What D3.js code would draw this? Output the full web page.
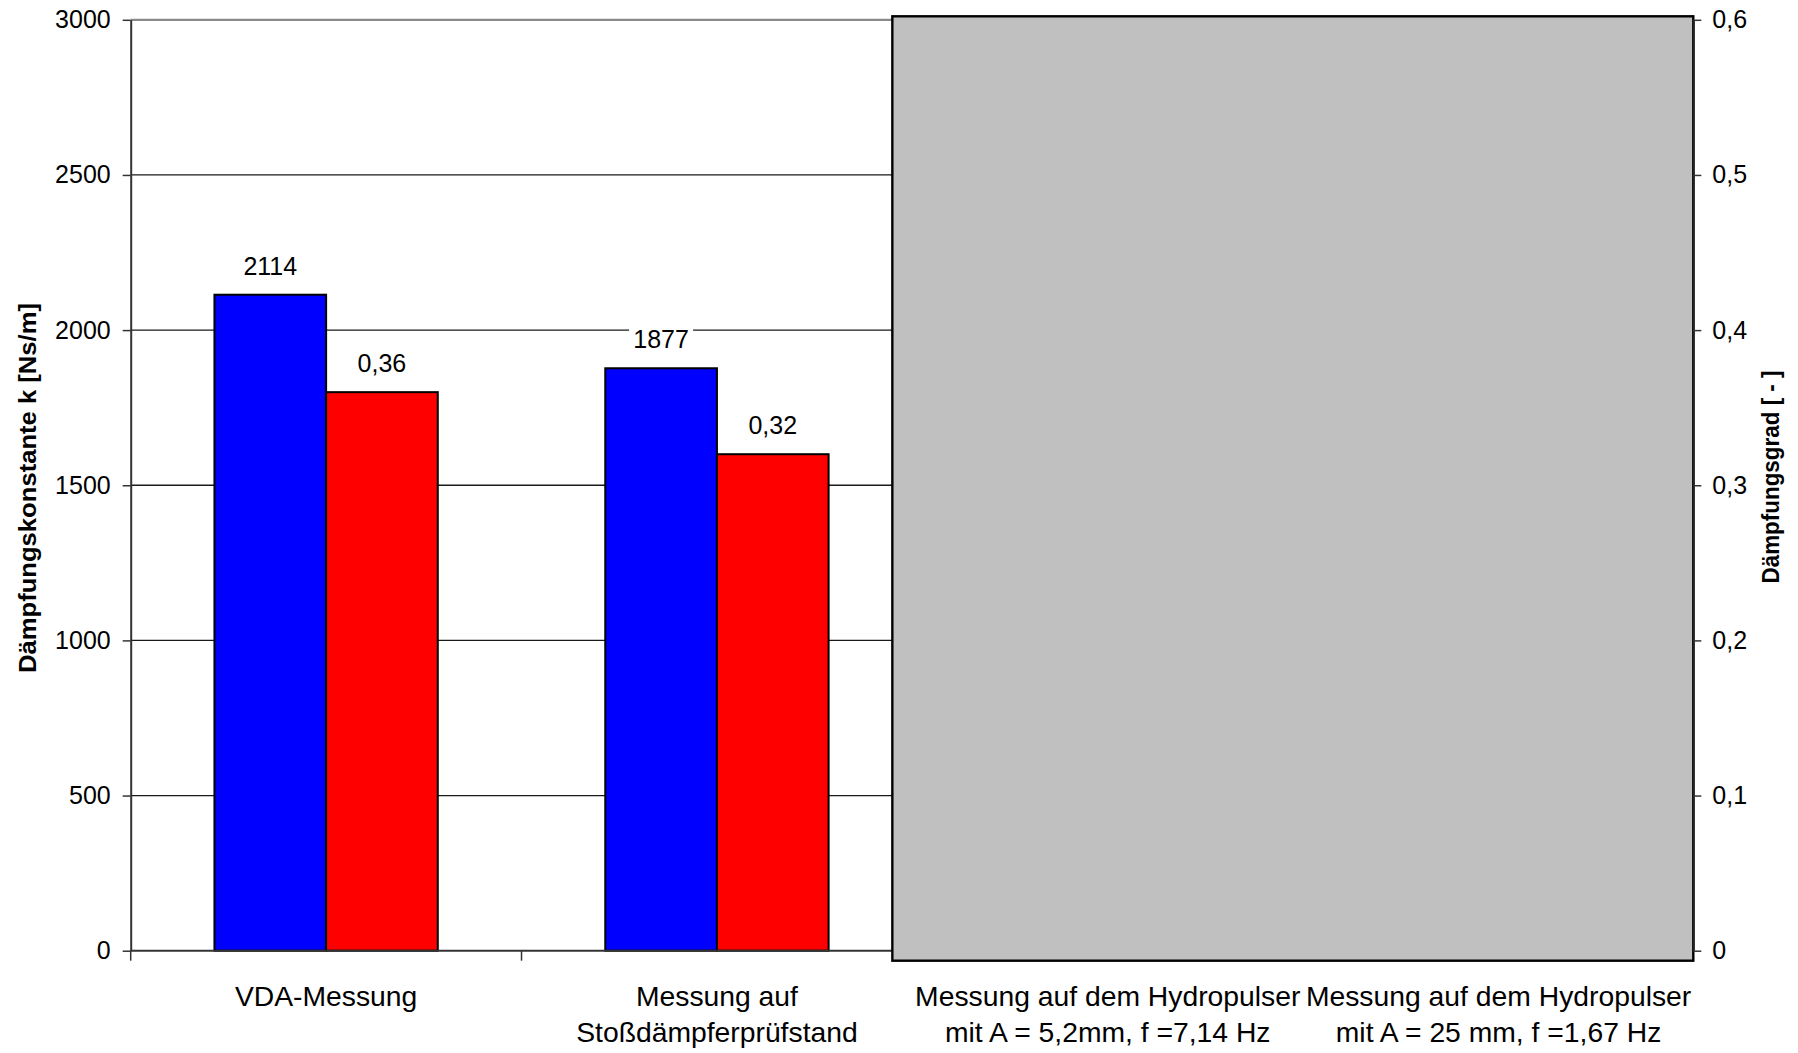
<!DOCTYPE html>
<html>
<head>
<meta charset="utf-8">
<script src="https://cdn.jsdelivr.net/npm/d3@7"></script>
<style>
  html, body { margin: 0; padding: 0; background: #fff; }
  svg { display: block; }
  text { font-family: "Liberation Sans", Arial, sans-serif; fill: #000; }
</style>
</head>
<body>
<svg id="chart" width="1798" height="1053"></svg>
<script>
// ---- data ----
const categories = [
  "VDA-Messung",
  "Messung auf\nStoßdämpferprüfstand",
  "Messung auf dem Hydropulser\nmit A = 5,2mm, f =7,14 Hz",
  "Messung auf dem Hydropulser\nmit A = 25 mm, f =1,67 Hz"
];
const seriesNames = ["k", "D"];
const dampingConstant = [2114, 1877, null, null];   // left axis [Ns/m]
const dampingRatio = [0.36, 0.32, null, null];      // right axis [-]
const leftTicks = [0, 500, 1000, 1500, 2000, 2500, 3000];
const leftTickLabels = ["0", "500", "1000", "1500", "2000", "2500", "3000"];
const rightTicks = [0, 0.1, 0.2, 0.3, 0.4, 0.5, 0.6];
const rightTickLabels = ["0", "0,1", "0,2", "0,3", "0,4", "0,5", "0,6"];
const coveredCategories = [categories[2], categories[3]];
const leftTitle = "Dämpfungskonstante k [Ns/m]";
const rightTitle = "Dämpfungsgrad [ - ]";

// ---- layout ----
const svg = d3.select("#chart");
const plot = { left: 130.7, right: 1694, top: 19.8, bottom: 950.7 };

const x = d3.scaleBand().domain(categories).range([plot.left, plot.right]).paddingInner(0).paddingOuter(0);
const xSub = d3.scaleBand().domain(seriesNames).range([0, x.bandwidth()]).paddingInner(0).paddingOuter(0.75);
const yL = d3.scaleLinear().domain([0, 3000]).range([plot.bottom, plot.top]);
const yR = d3.scaleLinear().domain([0, 0.6]).range([plot.bottom, plot.top]);

// gridlines
const grid = svg.append("g");
grid.selectAll("line").data(leftTicks.filter(d => d > 0)).join("line")
  .attr("x1", plot.left).attr("x2", plot.right)
  .attr("y1", d => yL(d)).attr("y2", d => yL(d))
  .attr("stroke", d => d === 3000 ? "#8a8a8a" : "#1a1a1a")
  .attr("stroke-width", d => d === 3000 ? 2.2 : 1.3);

// bars
const rows = categories.map((c, i) => ({ cat: c, k: dampingConstant[i], D: dampingRatio[i] }));
const bars = svg.append("g");
bars.selectAll("rect.k").data(rows.filter(r => r.k != null)).join("rect")
  .attr("class", "k")
  .attr("x", r => x(r.cat) + xSub("k"))
  .attr("width", xSub.bandwidth())
  .attr("y", r => yL(r.k))
  .attr("height", r => yL(0) - yL(r.k))
  .attr("fill", "#0000FF").attr("stroke", "#000").attr("stroke-width", 2);
bars.selectAll("rect.D").data(rows.filter(r => r.D != null)).join("rect")
  .attr("class", "D")
  .attr("x", r => x(r.cat) + xSub("D"))
  .attr("width", xSub.bandwidth())
  .attr("y", r => yR(r.D))
  .attr("height", r => yR(0) - yR(r.D))
  .attr("fill", "#FF0000").attr("stroke", "#000").attr("stroke-width", 2);

// data labels
const labels = [];
rows.forEach(r => {
  if (r.k != null) labels.push({ cx: x(r.cat) + xSub("k") + xSub.bandwidth() / 2, top: yL(r.k), txt: String(r.k) });
  if (r.D != null) labels.push({ cx: x(r.cat) + xSub("D") + xSub.bandwidth() / 2, top: yR(r.D), txt: d3.format(".2f")(r.D).replace(".", ",") });
});
const lg = svg.append("g").selectAll("g").data(labels).join("g");
lg.append("rect")
  .attr("x", d => d.cx - 32).attr("width", 64)
  .attr("y", d => d.top - 46).attr("height", 32)
  .attr("fill", "#fff");
lg.append("text")
  .attr("x", d => d.cx).attr("y", d => d.top - 20)
  .attr("text-anchor", "middle").attr("font-size", 25)
  .text(d => d.txt);

// left axis
const axL = svg.append("g").attr("transform", `translate(${plot.left},0)`)
  .call(d3.axisLeft(yL).tickValues(leftTicks).tickSize(8).tickSizeOuter(0).tickPadding(12)
    .tickFormat((d, i) => leftTickLabels[i]));
axL.select(".domain").attr("stroke", "#333").attr("stroke-width", 2);
axL.selectAll(".tick line").attr("stroke", "#333").attr("stroke-width", 1.5);
axL.selectAll(".tick text").attr("font-size", 25).attr("font-family", "Liberation Sans, Arial, sans-serif").attr("fill", "#000");

// bottom axis line + category ticks
svg.append("line")
  .attr("x1", plot.left).attr("x2", plot.right)
  .attr("y1", yL(0)).attr("y2", yL(0))
  .attr("stroke", "#333").attr("stroke-width", 2);
svg.append("g").selectAll("line").data(categories).join("line")
  .attr("x1", d => x(d)).attr("x2", d => x(d))
  .attr("y1", yL(0)).attr("y2", yL(0) + 10)
  .attr("stroke", "#333").attr("stroke-width", 1.5);

// category labels
const cl = svg.append("g").selectAll("text").data(categories).join("text")
  .attr("text-anchor", "middle").attr("font-size", 28.3)
  .attr("x", d => x(d) + x.bandwidth() / 2);
cl.selectAll("tspan").data(d => d.split("\n").map(s => ({ s, cx: x(d) + x.bandwidth() / 2 }))).join("tspan")
  .attr("x", d => d.cx)
  .attr("y", (d, i) => 1006 + i * 35.5)
  .text(d => d.s);

// grey box covering last two categories
const boxLeft = x(coveredCategories[0]) - 20;
svg.append("rect")
  .attr("x", boxLeft).attr("y", plot.top - 3.5)
  .attr("width", plot.right - 0.7 - boxLeft)
  .attr("height", yL(0) + 10 - (plot.top - 3.5))
  .attr("fill", "#C0C0C0").attr("stroke", "#000").attr("stroke-width", 2.4);

// right axis
const axR = svg.append("g").attr("transform", `translate(${plot.right - 0.7},0)`)
  .call(d3.axisRight(yR).tickValues(rightTicks).tickSize(8).tickSizeOuter(0).tickPadding(11)
    .tickFormat((d, i) => rightTickLabels[i]));
axR.select(".domain").attr("stroke", "#222").attr("stroke-width", 2);
axR.selectAll(".tick line").attr("stroke", "#333").attr("stroke-width", 1.5);
axR.selectAll(".tick text").attr("font-size", 25).attr("font-family", "Liberation Sans, Arial, sans-serif").attr("fill", "#000");

// axis titles
svg.append("text")
  .attr("transform", `translate(36,488) rotate(-90)`)
  .attr("text-anchor", "middle").attr("font-size", 23).attr("font-weight", "bold")
  .attr("textLength", 370).attr("lengthAdjust", "spacingAndGlyphs")
  .text(leftTitle);
svg.append("text")
  .attr("transform", `translate(1778.5,477) rotate(-90)`)
  .attr("text-anchor", "middle").attr("font-size", 23).attr("font-weight", "bold")
  .attr("textLength", 213).attr("lengthAdjust", "spacingAndGlyphs")
  .text(rightTitle);
</script>
</body>
</html>
